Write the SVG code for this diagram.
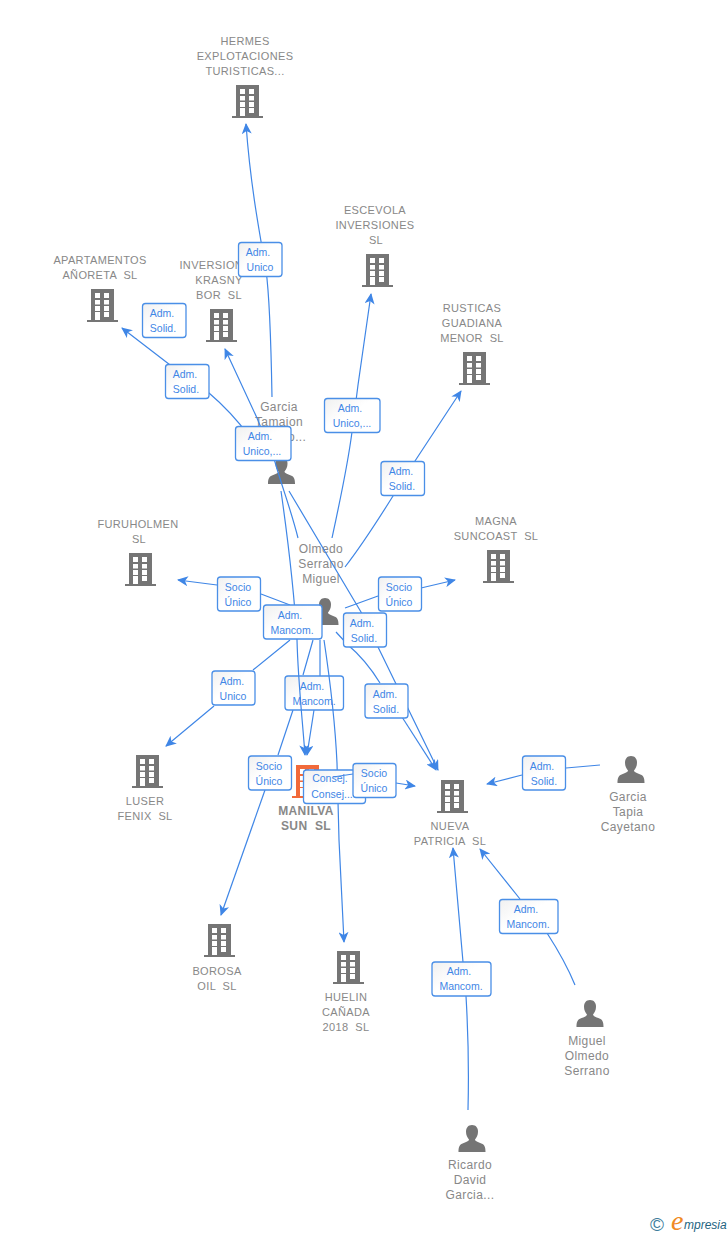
<svg xmlns="http://www.w3.org/2000/svg" width="728" height="1235" viewBox="0 0 728 1235">
<style>
text{font-family:"Liberation Sans",Arial,sans-serif;white-space:pre}
.n{font-size:11px;fill:#888;text-anchor:middle;letter-spacing:.35px}
.p{font-size:12px;fill:#888;text-anchor:middle;letter-spacing:.4px}
.m{font-size:12px;font-weight:bold;fill:#888;text-anchor:middle;letter-spacing:.4px}
.c{fill:none;stroke:#3f86e6;stroke-width:1.2;marker-end:url(#a)}
.l{fill:none;stroke:#3f86e6;stroke-width:1.2}
.b{fill:url(#g);stroke:#4a8fe7;stroke-width:1.3}
.t{font-size:10.5px;fill:#3f86e6;text-anchor:middle}
</style>
<defs>
<linearGradient id="g" x1="0" y1="0" x2="1" y2="1"><stop offset="0" stop-color="#f0f0f0"/><stop offset=".45" stop-color="#fff"/><stop offset="1" stop-color="#fff"/></linearGradient>
<marker id="a" markerWidth="12" markerHeight="10" refX="10" refY="5" orient="auto" markerUnits="userSpaceOnUse"><path d="M0 0L11 5L0 10L3 5Z" fill="#3f86e6"/></marker>
<symbol id="bld" width="31" height="33" viewBox="0 0 31 33"><path fill-rule="evenodd" d="M4 0H27V31H31V33H0V31H4ZM8 4V9H13V4ZM17 4V9H22V4ZM8 11V15.500H13V11ZM17 11V15.500H22V11ZM8 17V22H13V17ZM17 17V22H22V17ZM8 23V31H13V23ZM17 23V28H22V23Z"/></symbol>
<symbol id="per" width="28" height="27" viewBox="0 0 28 28" preserveAspectRatio="none"><path fill="#757575" d="M14 0C18 0 20 3 20 7C20 11 18.500 13 17 15C17 17 21 18 24 19.500C27 21 27.500 24 27.500 28H.5C.5 24 1 21 4 19.500C7 18 11 17 11 15C9.500 13 8 11 8 7C8 3 10 0 14 0Z"/></symbol>
</defs>
<rect width="728" height="1235" fill="#fff"/>
<g id="hermes"><text class="n" x="245" y="45">HERMES</text><text class="n" x="245" y="60">EXPLOTACIONES</text><text class="n" x="245" y="75">TURISTICAS...</text><use href="#bld" x="232" y="85" fill="#757575"/></g>
<g id="escevola"><text class="n" x="375" y="214">ESCEVOLA</text><text class="n" x="375" y="229">INVERSIONES</text><text class="n" x="376" y="244">SL</text><use href="#bld" x="362" y="254" fill="#757575"/></g>
<g id="apartamentos"><text class="n" x="100" y="264">APARTAMENTOS</text><text class="n" x="100" y="279">AÑORETA  SL</text><use href="#bld" x="87" y="289" fill="#757575"/></g>
<g id="inversion"><text class="n" x="219" y="269">INVERSIONES</text><text class="n" x="219" y="284">KRASNY</text><text class="n" x="219" y="299">BOR  SL</text><use href="#bld" x="206" y="309" fill="#757575"/></g>
<g id="rusticas"><text class="n" x="472" y="312">RUSTICAS</text><text class="n" x="472" y="327">GUADIANA</text><text class="n" x="472" y="342">MENOR  SL</text><use href="#bld" x="459" y="352" fill="#757575"/></g>
<g id="furuholmen"><text class="n" x="138" y="528">FURUHOLMEN</text><text class="n" x="139" y="543">SL</text><use href="#bld" x="125" y="553" fill="#757575"/></g>
<g id="magna"><text class="n" x="496" y="525">MAGNA</text><text class="n" x="496" y="540">SUNCOAST  SL</text><use href="#bld" x="483" y="550" fill="#757575"/></g>
<g id="luser"><use href="#bld" x="132" y="755" fill="#757575"/><text class="n" x="145" y="805">LUSER</text><text class="n" x="145" y="820">FENIX  SL</text></g>
<g id="nueva"><use href="#bld" x="437" y="780" fill="#757575"/><text class="n" x="450" y="830">NUEVA</text><text class="n" x="450" y="845">PATRICIA  SL</text></g>
<g id="borosa"><use href="#bld" x="204" y="924" fill="#757575"/><text class="n" x="217" y="975">BOROSA</text><text class="n" x="217" y="990">OIL  SL</text></g>
<g id="huelin"><use href="#bld" x="333" y="951" fill="#757575"/><text class="n" x="346" y="1001">HUELIN</text><text class="n" x="346" y="1016">CAÑADA</text><text class="n" x="346" y="1031">2018  SL</text></g>
<g id="manilva"><use href="#bld" x="292" y="765" fill="#f26a3a"/><text class="m" x="306" y="815">MANILVA</text><text class="m" x="306" y="830">SUN  SL</text></g>
<g id="garcia-tamaion"><text class="p" x="279" y="411">Garcia</text><text class="p" x="279" y="426">Tamaion</text><text class="p" x="279" y="441">Antonio...</text><use href="#per" x="267.500" y="457"/></g>
<g id="olmedo"><text class="p" x="321" y="553">Olmedo</text><text class="p" x="321" y="568">Serrano</text><text class="p" x="321" y="583">Miguel</text><use href="#per" x="311" y="598"/></g>
<g id="garcia-tapia"><use href="#per" x="617" y="756"/><text class="p" x="628" y="801">Garcia</text><text class="p" x="628" y="816">Tapia</text><text class="p" x="628" y="831">Cayetano</text></g>
<g id="miguel"><use href="#per" x="576" y="1000"/><text class="p" x="587" y="1045">Miguel</text><text class="p" x="587" y="1060">Olmedo</text><text class="p" x="587" y="1075">Serrano</text></g>
<g id="ricardo"><use href="#per" x="458" y="1125"/><text class="p" x="470" y="1169">Ricardo</text><text class="p" x="470" y="1184">David</text><text class="p" x="470" y="1199">Garcia...</text></g>
<g id="connectors">
<path class="c" d="M272 397C271 340 270 300 266 270C258 225 250 180 246 124"/>
<path class="c" d="M250 437C235 417 222 404 209 393L187 378L122 328"/>
<path class="c" d="M298 538C291 510 283 490 275 462L257 418L225 349"/>
<path class="c" d="M332 538C340 500 347 470 352 432L358 385L371 294"/>
<path class="c" d="M345 567C362 545 378 520 393 496L415 461L461 391"/>
<path class="c" d="M345 608L378 596M421 588L455 580"/>
<path class="c" d="M290 605L261 594M217 585L178 580"/>
<path class="c" d="M290 640L253 670M214 706L166 746"/>
<path class="l" d="M313 640L303 675M293 710L278 755"/>
<path class="c" d="M265 790L221 915"/>
<path class="l" d="M320 640L320 676"/>
<path class="c" d="M314 710L307 755"/>
<path class="l" d="M281 491C288 540 294 590 297 640"/>
<path class="c" d="M289 491L361 612L378 647L438 770"/>
<path class="l" d="M336 632L348 645C360 655 372 670 380 683"/>
<path class="c" d="M402 717L436 770"/>
<path class="c" d="M600 765L566 768M522 775L487 784"/>
<path class="c" d="M575 985C568 968 558 950 547 933M520 899L480 849"/>
<path class="c" d="M468 1110C469 1070 468 1030 466 996M463 962L453 848"/>
</g>
<g id="edge-labels">
<g><rect class="b" x="238.500" y="242.500" width="43.500" height="34" rx="3"/><text class="t" x="258" y="256">Adm.</text><text class="t" x="260" y="271">Unico</text></g>
<g><rect class="b" x="142.500" y="303.500" width="43.500" height="34" rx="3"/><text class="t" x="162" y="317">Adm.</text><text class="t" x="163" y="332">Solid.</text></g>
<g><rect class="b" x="165.500" y="364.500" width="43.500" height="34" rx="3"/><text class="t" x="185" y="378">Adm.</text><text class="t" x="186" y="393">Solid.</text></g>
<g><rect class="b" x="324.500" y="398.500" width="55.500" height="34" rx="3"/><text class="t" x="350" y="412">Adm.</text><text class="t" x="352" y="427">Unico,...</text></g>
<g><rect class="b" x="235.500" y="426.500" width="55.500" height="34" rx="3"/><text class="t" x="260" y="440">Adm.</text><text class="t" x="262" y="455">Unico,...</text></g>
<g><rect class="b" x="381" y="461.500" width="43.500" height="34" rx="3"/><text class="t" x="401" y="475">Adm.</text><text class="t" x="402" y="490">Solid.</text></g>
<g><rect class="b" x="217.500" y="577" width="43" height="34" rx="3"/><text class="t" x="238" y="591">Socio</text><text class="t" x="238" y="606">Único</text></g>
<g><rect class="b" x="378.500" y="577" width="43" height="34" rx="3"/><text class="t" x="399" y="591">Socio</text><text class="t" x="399" y="606">Único</text></g>
<g><rect class="b" x="263.500" y="605" width="58.500" height="34" rx="3"/><text class="t" x="290" y="619">Adm.</text><text class="t" x="292" y="634">Mancom.</text></g>
<g><rect class="b" x="343.500" y="613" width="43" height="34" rx="3"/><text class="t" x="362" y="627">Adm.</text><text class="t" x="364" y="642">Solid.</text></g>
<g><rect class="b" x="212" y="671" width="43" height="34" rx="3"/><text class="t" x="232" y="685">Adm.</text><text class="t" x="233" y="700">Unico</text></g>
<g><rect class="b" x="285" y="676" width="58.500" height="34" rx="3"/><text class="t" x="312" y="690">Adm.</text><text class="t" x="314" y="705">Mancom.</text></g>
<g><rect class="b" x="365" y="684" width="43" height="34" rx="3"/><text class="t" x="385" y="698">Adm.</text><text class="t" x="386" y="713">Solid.</text></g>
<g><rect class="b" x="248.500" y="756" width="43" height="34" rx="3"/><text class="t" x="269" y="770">Socio</text><text class="t" x="269" y="785">Único</text></g>
</g>
<g id="connectors-over">
<path class="c" d="M297 640C298 680 302 715 305 755"/>
<path class="c" d="M324 640C330 680 335 720 337 763L339 840L344 942"/>
</g>
<g id="edge-labels-top">
<g><rect class="b" x="303.500" y="770" width="62" height="33.500" rx="3"/><text class="t" x="330" y="782">Consej.</text><text class="t" x="332" y="798">Consej...</text></g>
<path class="l" d="M333 777L353 774"/>
<path class="c" d="M396 783L415 786"/>
<g><rect class="b" x="353" y="763.500" width="43" height="34" rx="3"/><text class="t" x="374" y="777">Socio</text><text class="t" x="374" y="792">Único</text></g>
<g><rect class="b" x="522.500" y="756" width="43" height="34" rx="3"/><text class="t" x="542" y="770">Adm.</text><text class="t" x="544" y="785">Solid.</text></g>
<g><rect class="b" x="499.500" y="899.500" width="58.500" height="34" rx="3"/><text class="t" x="526" y="913">Adm.</text><text class="t" x="528" y="928">Mancom.</text></g>
<g><rect class="b" x="432" y="962" width="59" height="34" rx="3"/><text class="t" x="459" y="975">Adm.</text><text class="t" x="461" y="990">Mancom.</text></g>
</g>
<g id="logo"><text x="650" y="1231" font-size="19" fill="#3d7d9c">©</text><text x="671" y="1230" font-size="28" font-style="italic" fill="#f08a24" style="font-family:'Liberation Serif',serif">e</text><text x="684" y="1229" font-size="12" font-style="italic" fill="#24647f">mpresia</text></g>
</svg>
